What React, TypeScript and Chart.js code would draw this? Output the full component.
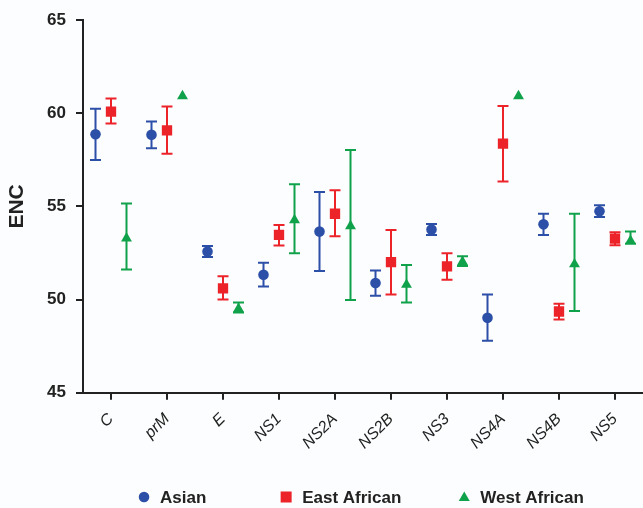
import React, { useEffect, useRef } from 'react';
import { Chart, registerables } from 'chart.js';

Chart.register(...registerables);

const categories = ['C', 'prM', 'E', 'NS1', 'NS2A', 'NS2B', 'NS3', 'NS4A', 'NS4B', 'NS5'];
const seriesNames = ['Asian', 'East African', 'West African'];
const yTicks = [45, 50, 55, 60, 65];

const asianMean = [58.88, 58.85, 52.58, 51.33, 53.65, 50.89, 53.76, 49.02, 54.04, 54.74];
const asianLow = [57.49, 58.13, 52.28, 50.7, 51.53, 50.2, 53.47, 47.79, 53.47, 54.43];
const asianHigh = [60.25, 59.56, 52.87, 51.98, 55.78, 51.56, 54.06, 50.27, 54.61, 55.07];

const eastMean = [60.09, 59.08, 50.6, 53.47, 54.61, 52.01, 51.78, 58.37, 49.36, 53.27];
const eastLow = [59.45, 57.83, 50.0, 52.9, 53.4, 50.27, 51.07, 56.34, 48.93, 52.92];
const eastHigh = [60.8, 60.36, 51.25, 54.0, 55.87, 53.74, 52.49, 60.39, 49.77, 53.62];

const westMean = [53.29, 60.93, 49.5, 54.27, 53.95, 50.8, 52.03, 60.93, 51.9, 53.15];
const westLow = [51.62, 60.93, 49.3, 52.49, 49.98, 49.84, 51.8, 60.93, 49.39, 53.0];
const westHigh = [55.16, 60.93, 49.84, 56.19, 58.03, 51.85, 52.33, 60.93, 54.61, 53.65];

const colors = ['#2c4fa7', '#ec2329', '#10a24b'];
const pointStyles = ['circle', 'rect', 'triangle'];
const pointRadii = [5.3, 7.3, 6.3];
const groupOffsets = [-15.5, 0, 15.5];
const ink = '#222222';
const fontFamily = '"Liberation Sans", Arial, Helvetica, sans-serif';

const errorBarPlugin = {
  id: 'errorBars',
  afterDatasetsUpdate(chart: any) {
    chart.data.datasets.forEach((_ds: any, i: number) => {
      const meta = chart.getDatasetMeta(i);
      meta.data.forEach((el: any) => {
        el.x += groupOffsets[i];
      });
    });
  },
  beforeDatasetsDraw(chart: any) {
    const ctx = chart.ctx;
    const yScale = chart.scales.y;
    chart.data.datasets.forEach((ds: any, i: number) => {
      const meta = chart.getDatasetMeta(i);
      meta.data.forEach((el: any, j: number) => {
        const lo = ds.errLow[j];
        const hi = ds.errHigh[j];
        if (lo === hi) return;
        const x = el.x;
        const y1 = yScale.getPixelForValue(lo);
        const y2 = yScale.getPixelForValue(hi);
        ctx.save();
        ctx.strokeStyle = ds.borderColor;
        ctx.lineWidth = 2;
        ctx.beginPath();
        ctx.moveTo(x, y1);
        ctx.lineTo(x, y2);
        ctx.moveTo(x - 5.5, y1);
        ctx.lineTo(x + 5.5, y1);
        ctx.moveTo(x - 5.5, y2);
        ctx.lineTo(x + 5.5, y2);
        ctx.stroke();
        ctx.restore();
      });
    });
  },
};

const legendPlugin = {
  id: 'customLegend',
  afterDraw(chart: any) {
    const ctx = chart.ctx;
    const cy = chart.height - 11;
    const fr = [0.224, 0.445, 0.722];
    ctx.save();
    seriesNames.forEach((name, i) => {
      const mx = chart.width * fr[i];
      ctx.fillStyle = colors[i];
      ctx.beginPath();
      if (i === 0) {
        ctx.arc(mx, cy, 5.3, 0, Math.PI * 2);
      } else if (i === 1) {
        ctx.rect(mx - 5.5, cy - 5.5, 11, 11);
      } else {
        ctx.moveTo(mx, cy - 5.5);
        ctx.lineTo(mx + 5.5, cy + 4);
        ctx.lineTo(mx - 5.5, cy + 4);
        ctx.closePath();
      }
      ctx.fill();
      ctx.fillStyle = ink;
      ctx.font = `bold 17px ${fontFamily}`;
      ctx.textBaseline = 'middle';
      ctx.textAlign = 'left';
      ctx.fillText(name, mx + 16, cy + 1);
    });
    ctx.restore();
  },
};

export default function App() {
  const canvasRef = useRef<HTMLCanvasElement | null>(null);

  useEffect(() => {
    if (!canvasRef.current) return;
    const means = [asianMean, eastMean, westMean];
    const lows = [asianLow, eastLow, westLow];
    const highs = [asianHigh, eastHigh, westHigh];
    const chart = new Chart(canvasRef.current, {
      type: 'line',
      data: {
        labels: categories,
        datasets: seriesNames.map((name, i) => ({
          label: name,
          data: means[i],
          errLow: lows[i],
          errHigh: highs[i],
          showLine: false,
          borderColor: colors[i],
          backgroundColor: colors[i],
          pointStyle: pointStyles[i],
          pointRadius: pointRadii[i],
          pointHoverRadius: pointRadii[i],
          pointBackgroundColor: colors[i],
          pointBorderColor: colors[i],
          pointBorderWidth: 0,
        })) as any,
      },
      options: {
        animation: false,
        responsive: false,
        layout: { autoPadding: false, padding: { top: 18.7, left: 0, right: 0, bottom: 53.3 } },
        plugins: {
          legend: { display: false },
          tooltip: { enabled: false },
        },
        scales: {
          x: {
            type: 'category',
            offset: true,
            grid: {
              display: true,
              drawOnChartArea: false,
              drawTicks: true,
              tickLength: 7,
              color: ink,
              lineWidth: 2,
              offset: false,
            },
            border: { display: true, color: ink, width: 2 },
            ticks: {
              color: ink,
              font: { family: fontFamily, size: 16, style: 'italic' },
              minRotation: 45,
              maxRotation: 45,
              padding: 10,
              autoSkip: false,
            },
            afterFit: (s: any) => {
              s.height = 62;
            },
          },
          y: {
            min: 45,
            max: 65,
            afterBuildTicks: (s: any) => {
              s.ticks = yTicks.map((v) => ({ value: v }));
            },
            grid: {
              display: true,
              drawOnChartArea: false,
              drawTicks: true,
              tickLength: 7,
              color: ink,
              lineWidth: 2,
            },
            border: { display: true, color: ink, width: 2 },
            ticks: {
              color: ink,
              font: { family: fontFamily, size: 17, weight: 'bold' },
              padding: 10,
            },
            title: {
              display: true,
              text: 'ENC',
              color: ink,
              font: { family: fontFamily, size: 21, weight: 'bold' },
              padding: { top: 5, bottom: 4 },
            },
            afterFit: (s: any) => {
              s.width = 83;
            },
          },
        },
      } as any,
      plugins: [errorBarPlugin, legendPlugin],
    });
    return () => chart.destroy();
  }, []);

  return (
    <div style={{ position: 'absolute', left: 0, top: 0, width: 643, height: 508, background: '#fcfdfe' }}>
      <canvas ref={canvasRef} width={643} height={508} style={{ display: 'block' }} />
    </div>
  );
}
